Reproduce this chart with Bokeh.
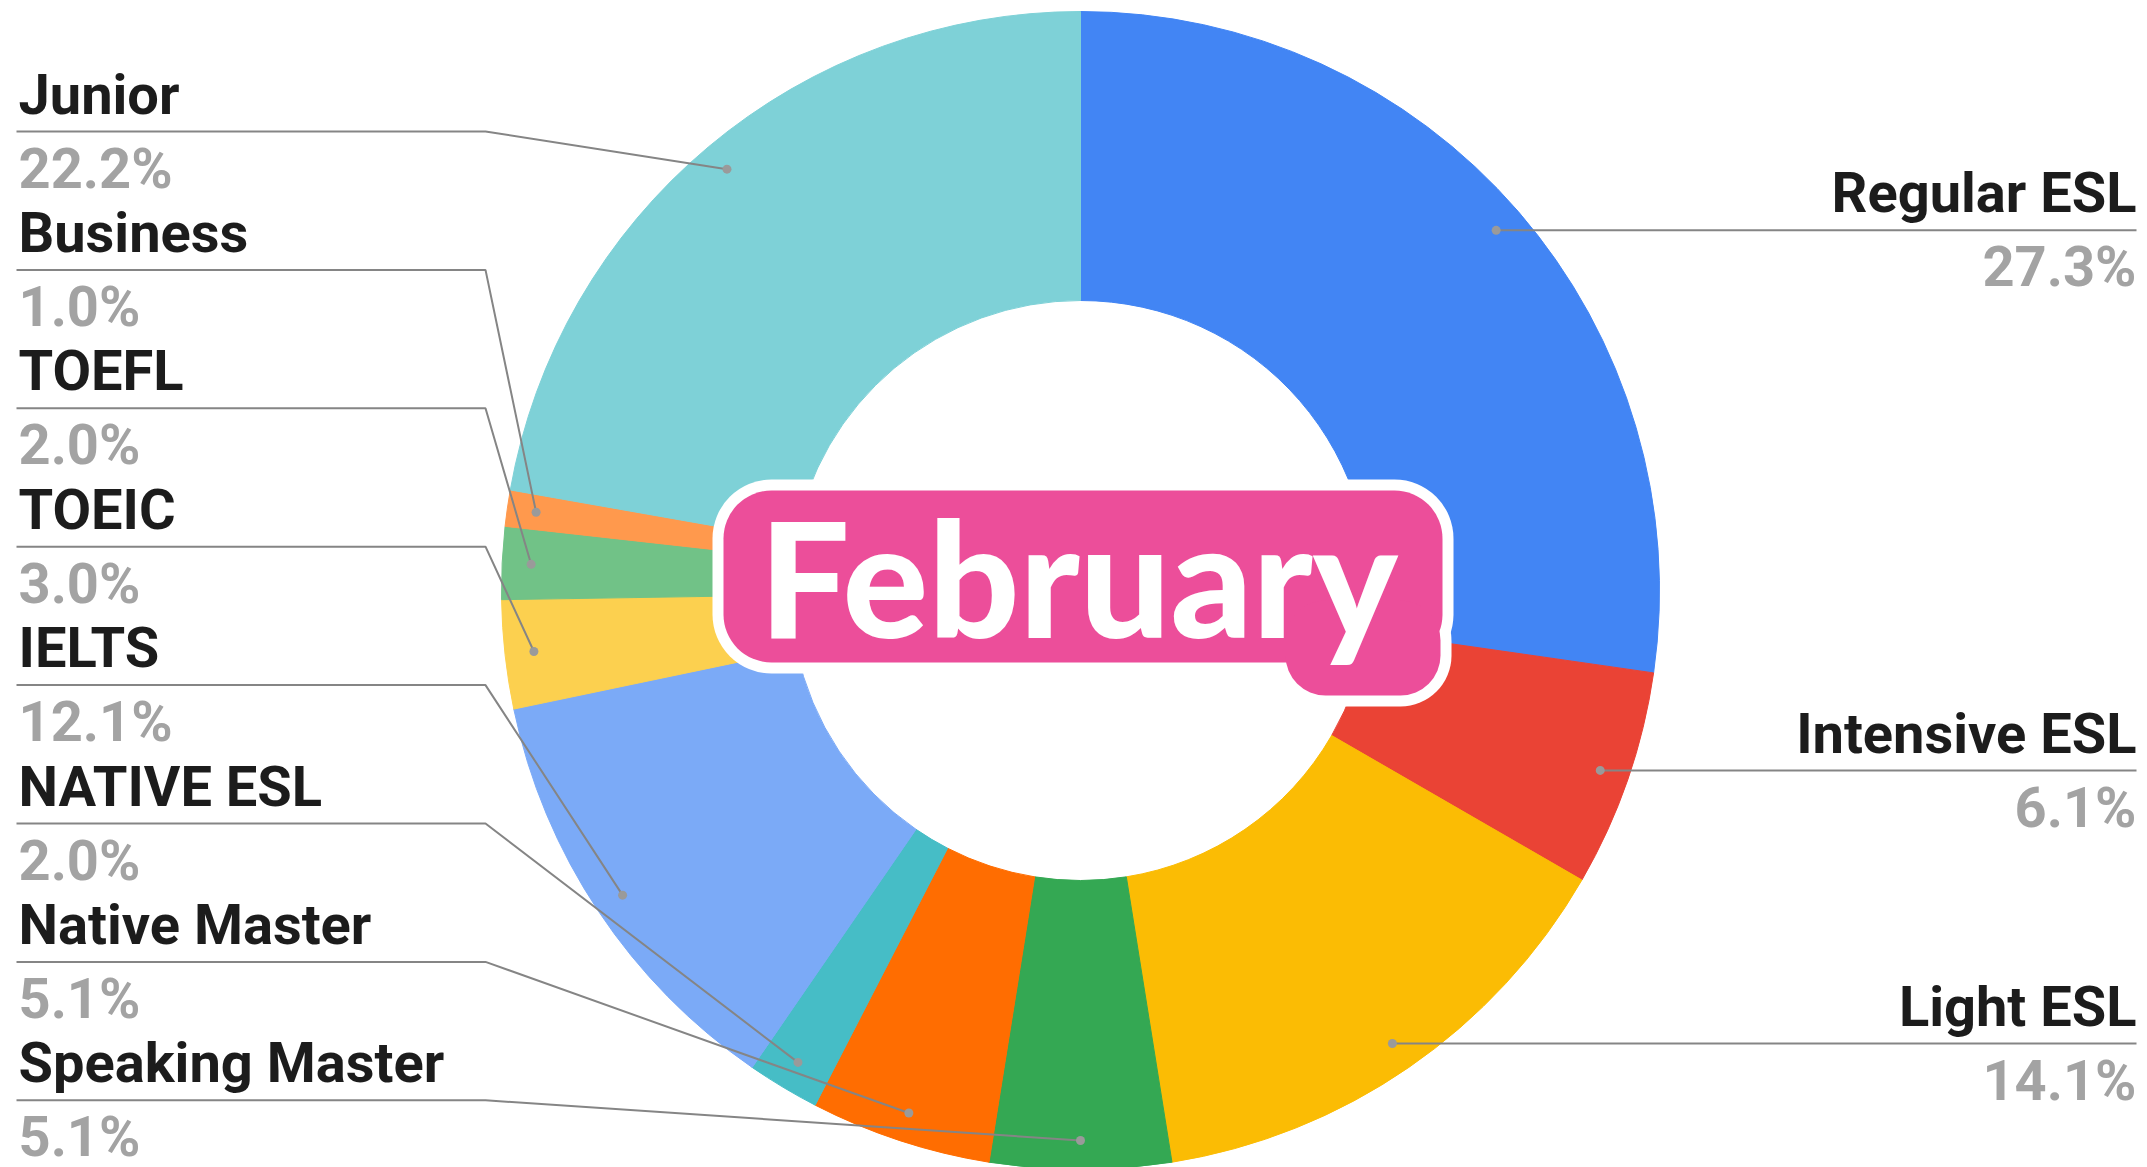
import math
from bokeh.plotting import figure
from bokeh.models import Range1d, Label, ColumnDataSource, BoxAnnotation
from bokeh.embed import file_html
from bokeh.resources import INLINE
from bokeh.core.properties import value

# ---- data ----
categories = ["Regular ESL", "Intensive ESL", "Light ESL", "Speaking Master", "Native Master",
              "NATIVE ESL", "IELTS", "TOEIC", "TOEFL", "Business", "Junior"]
counts = [27, 6, 14, 5, 5, 2, 12, 3, 2, 1, 22]
colors = ["#4285F4", "#EA4335", "#FBBC04", "#34A853", "#FF6D01",
          "#46BDC6", "#7BAAF7", "#FCD04F", "#71C287", "#FF994D", "#7ED1D7"]
title_text = "February"

# ---- layout (screen pixel coordinates of the page) ----
PAGE_W, PAGE_H = 2147, 1167
def Y(sy):
    return PAGE_H - sy

CX, CY = 1080, 590
R_OUT, R_IN, R_DOT = 579, 290, 550
LEFT_X, LEFT_LINE_END = 18, 485
RIGHT_X = 2136
LEFT_TOP, LEFT_STEP = 131, 138.4
FS = 56
BASE_FIX = 0.355 * FS          # svg text sits ~half a cap height low
NAME_DY, PCT_DY = -17 - BASE_FIX, 57 - BASE_FIX
FONT = value("Roboto")
PINK = "#EC4E9A"

p = figure(width=PAGE_W, height=PAGE_H, output_backend="svg", toolbar_location=None,
           x_range=Range1d(0, PAGE_W), y_range=Range1d(0, PAGE_H), min_border=0,
           x_axis_location=None, y_axis_location=None)
p.grid.visible = False
p.outline_line_color = None
p.background_fill_color = "white"
p.border_fill_color = "white"

total = sum(counts)
starts, ends, mids = [], [], []
cum = 0
for c in counts:
    a0 = 2 * math.pi * cum / total
    a1 = 2 * math.pi * (cum + c) / total
    starts.append(math.pi / 2 - a0)
    ends.append(math.pi / 2 - a1)
    mids.append((a0 + a1) / 2)
    cum += c

src = ColumnDataSource(dict(start=starts, end=ends, color=colors, name=categories))
p.annular_wedge(x=CX, y=Y(CY), inner_radius=R_IN, outer_radius=R_OUT,
                start_angle="start", end_angle="end", direction="clock",
                fill_color="color", line_color="color", line_width=1, source=src)

pcts = ["%.1f%%" % (100.0 * c / total) for c in counts]

dot_x = [CX + R_DOT * math.sin(m) for m in mids]
dot_sy = [CY - R_DOT * math.cos(m) for m in mids]

right_idx = [i for i, m in enumerate(mids) if m < math.pi - 1e-9]
left_idx = sorted([i for i, m in enumerate(mids) if m >= math.pi - 1e-9],
                  key=lambda i: -mids[i])

xs, ys = [], []
tx, ty, tt, tc, ta = [], [], [], [], []
for i in right_idx:
    ly = dot_sy[i]
    xs.append([dot_x[i], RIGHT_X]); ys.append([Y(ly), Y(ly)])
    tx += [RIGHT_X, RIGHT_X]; ty += [Y(ly + NAME_DY), Y(ly + PCT_DY)]
    tt += [categories[i], pcts[i]]; tc += ["#1c1c1c", "#a3a3a3"]; ta += ["right", "right"]
for k, i in enumerate(left_idx):
    ly = LEFT_TOP + k * LEFT_STEP
    xs.append([LEFT_X - 2, LEFT_LINE_END, dot_x[i]]); ys.append([Y(ly), Y(ly), Y(dot_sy[i])])
    tx += [LEFT_X, LEFT_X]; ty += [Y(ly + NAME_DY), Y(ly + PCT_DY)]
    tt += [categories[i], pcts[i]]; tc += ["#1c1c1c", "#a3a3a3"]; ta += ["left", "left"]

p.multi_line(xs=xs, ys=ys, line_color="#858585", line_width=2)
p.scatter(x=dot_x, y=[Y(s) for s in dot_sy], size=9, fill_color="#9a9a9a", line_color=None)

tsrc = ColumnDataSource(dict(x=tx, y=ty, text=tt, color=tc, align=ta))
p.text(x="x", y="y", text="text", text_color="color", text_align="align",
       text_baseline="alphabetic", text_font=FONT, text_font_style="bold",
       text_font_size="%dpx" % FS, source=tsrc)

# sticker-like badge behind the title (white rim, then pink body)
BORDER = 11
badge_boxes = [(723, 1442, 490, 662, 48), (1285, 1440, 600, 695, 40)]
for (l, r, t, b, rad) in badge_boxes:
    p.add_layout(BoxAnnotation(left=l - BORDER, right=r + BORDER, top=Y(t - BORDER), bottom=Y(b + BORDER),
                               fill_color="white", fill_alpha=1, line_color=None,
                               border_radius=rad + BORDER))
for (l, r, t, b, rad) in badge_boxes:
    p.add_layout(BoxAnnotation(left=l, right=r, top=Y(t), bottom=Y(b),
                               fill_color=PINK, fill_alpha=1, line_color=None,
                               border_radius=rad))

TFS = 160
title = Label(x=CX - 2, y=Y(633 - 0.36 * TFS), text=title_text, text_align="center",
              text_baseline="alphabetic", text_font="Lato Black", text_font_style="normal",
              text_font_size="%dpx" % TFS, text_color="white")
p.add_layout(title)

open("out.html", "w").write(file_html(p, INLINE))
